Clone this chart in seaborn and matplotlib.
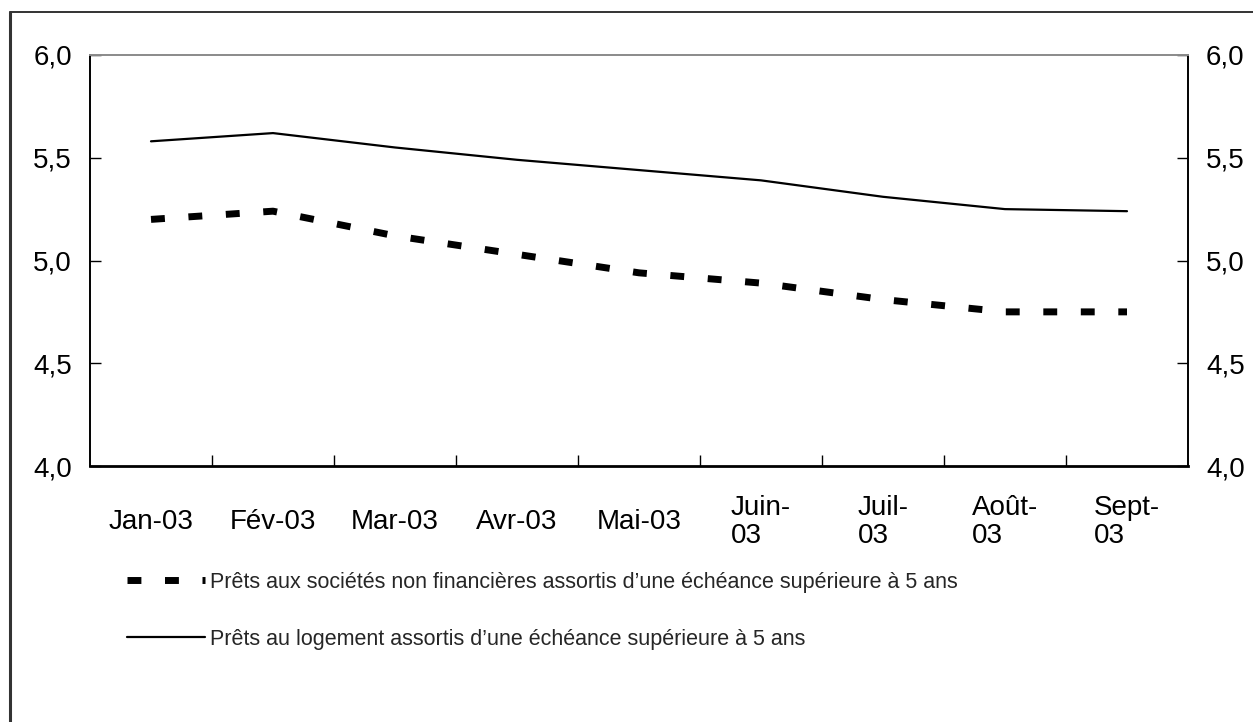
import matplotlib
matplotlib.use("Agg")
import pandas as pd
import seaborn as sns
import matplotlib.pyplot as plt
from matplotlib.lines import Line2D
from matplotlib.ticker import FixedLocator, FuncFormatter

sns.set_theme(style="white")
plt.rcParams["font.family"] = ["Liberation Sans Narrow", "Liberation Sans", "DejaVu Sans"]

# Values (%)
months = ["Jan-03", "Fév-03", "Mar-03", "Avr-03", "Mai-03",
          "Juin-\n03", "Juil-\n03", "Août-\n03", "Sept-\n03"]
label_nf = "Prêts aux sociétés non financières assortis d’une échéance supérieure à 5 ans"
label_log = "Prêts au logement assortis d’une échéance supérieure à 5 ans"
nf_values = [5.20, 5.24, 5.12, 5.03, 4.94, 4.89, 4.81, 4.75, 4.75]
log_values = [5.58, 5.62, 5.55, 5.49, 5.44, 5.39, 5.31, 5.25, 5.24]

df_nf = pd.DataFrame({"month": months, "rate": nf_values})
df_log = pd.DataFrame({"month": months, "rate": log_values})

fig = plt.figure(figsize=(12.53, 7.22), dpi=100)
ax = fig.add_axes([90 / 1253, 1 - 466 / 722, 1098 / 1253, 411 / 722])

sns.lineplot(data=df_nf, x="month", y="rate", ax=ax, color="black",
             linewidth=5, linestyle=(0, (2, 3.4)), label=label_nf,
             sort=False)
sns.lineplot(data=df_log, x="month", y="rate", ax=ax, color="black",
             linewidth=1.6, label=label_log, sort=False)

ax.set_xlim(-0.5, len(months) - 0.5)
ax.set_ylim(4.0, 6.0)
ax.set_xlabel("")
ax.set_ylabel("")

# y axis: labels on both sides, comma decimals, inward ticks
ax.set_yticks([4.0, 4.5, 5.0, 5.5, 6.0])
ax.yaxis.set_major_formatter(FuncFormatter(lambda v, _: f"{v:.1f}".replace(".", ",")))
ax.tick_params(axis="y", which="major", direction="in", length=8, width=1,
               left=True, right=True, labelleft=True, labelright=True,
               labelsize=20, pad=13, colors="black")

# x axis: labels centred on months, ticks between months
ax.tick_params(axis="x", which="major", length=0, labelsize=20, pad=40,
               colors="black")
ax.xaxis.set_minor_locator(FixedLocator([i + 0.5 for i in range(len(months) - 1)]))
ax.tick_params(axis="x", which="minor", direction="in", length=8, width=1,
               bottom=True, color="black")
for lbl in ax.get_xticklabels():
    lbl.set_verticalalignment("center")
    lbl.set_multialignment("left")
    lbl.set_linespacing(1.1)

for side in ["left", "right"]:
    ax.spines[side].set_color("black")
    ax.spines[side].set_linewidth(1.4)
ax.spines["bottom"].set_color("black")
ax.spines["bottom"].set_linewidth(2)
ax.spines["top"].set_color("#8a8a8a")
ax.spines["top"].set_linewidth(1.4)

# legend below the plot, dashed series first
ax.get_legend().remove()
handles = [Line2D([], [], color="black", linewidth=5, linestyle=(0, (2, 3.4))),
           Line2D([], [], color="black", linewidth=1.6)]
fig.legend(handles, [label_nf, label_log], loc="upper left",
           bbox_to_anchor=(127 / 1253, 1 - 572 / 722), frameon=False,
           prop={"family": ["Liberation Sans", "DejaVu Sans"], "size": 15.5},
           handlelength=3.6, handletextpad=0.25,
           labelspacing=1.65, borderpad=0, borderaxespad=0)

# outer frame of the original figure (top and left edges only)
fig.add_artist(Line2D([10 / 1253, 10 / 1253], [0, 1 - 12 / 722],
                      transform=fig.transFigure, color="#333333", linewidth=2.2))
fig.add_artist(Line2D([10 / 1253, 1], [1 - 12 / 722, 1 - 12 / 722],
                      transform=fig.transFigure, color="#333333", linewidth=1.4))

fig.savefig("out.png", dpi=100, facecolor="white")
